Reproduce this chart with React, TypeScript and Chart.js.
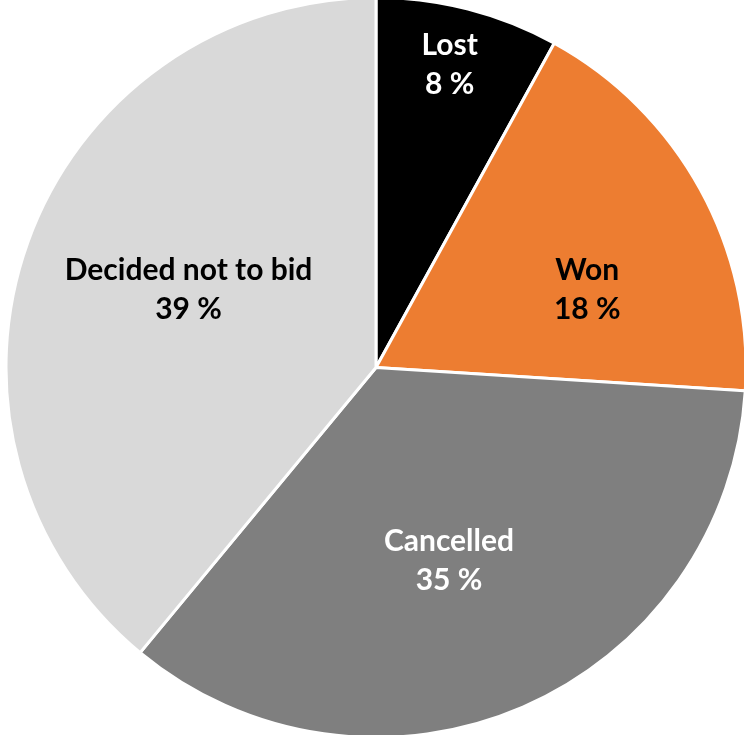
import React, { useEffect, useRef } from "react";
import { Chart, registerables } from "chart.js";

Chart.register(...registerables);

const categories = ["Lost", "Won", "Cancelled", "Decided not to bid"];
const values = [8, 18, 35, 39];
const percentLabels = ["8 %", "18 %", "35 %", "39 %"];
const colors = ["#000000", "#ED7D31", "#7F7F7F", "#D9D9D9"];
const labelColors = ["#FFFFFF", "#000000", "#FFFFFF", "#000000"];
// label placement: [angle offset from slice middle (deg), radius fraction]
const labelPlacement: [number, number][] = [
  [-0.7, 0.841],
  [8.7, 0.608],
  [2.7, 0.558],
  [2.6, 0.548],
];

const FONT = "bold 30px Lato, 'Open Sans', 'Liberation Sans', sans-serif";

const labelPlugin = {
  id: "sliceLabels",
  afterDatasetsDraw(chart: any) {
    const meta = chart.getDatasetMeta(0);
    const ctx = chart.ctx;
    ctx.save();
    ctx.font = FONT;
    ctx.textAlign = "center";
    ctx.textBaseline = "middle";
    meta.data.forEach((arc: any, i: number) => {
      const { x, y, startAngle, endAngle, outerRadius } = arc.getProps(
        ["x", "y", "startAngle", "endAngle", "outerRadius"],
        true
      );
      const mid = (startAngle + endAngle) / 2 + (labelPlacement[i][0] * Math.PI) / 180;
      const r = outerRadius * labelPlacement[i][1];
      const cx = x + Math.cos(mid) * r;
      const cy = y + Math.sin(mid) * r;
      ctx.fillStyle = labelColors[i];
      ctx.fillText(categories[i], cx, cy - 19.5);
      ctx.fillText(percentLabels[i], cx, cy + 19.5);
    });
    ctx.restore();
  },
};

export default function App() {
  const ref = useRef<HTMLCanvasElement | null>(null);
  useEffect(() => {
    if (!ref.current) return;
    const chart = new Chart(ref.current, {
      type: "pie",
      data: {
        labels: categories,
        datasets: [
          {
            data: values,
            backgroundColor: colors,
            borderColor: "#FFFFFF",
            borderWidth: 3,
            hoverOffset: 0,
          },
        ],
      },
      options: {
        animation: false,
        responsive: false,
        radius: 370,
        layout: { padding: { left: 8, top: 0, right: 0, bottom: 0 } },
        plugins: {
          legend: { display: false },
          tooltip: { enabled: false },
        },
      } as any,
      plugins: [labelPlugin],
    });
    return () => chart.destroy();
  }, []);
  return (
    <div style={{ position: "absolute", left: 0, top: 0, width: 744, height: 735, background: "#fff" }}>
      <canvas ref={ref} width={744} height={735} style={{ width: 744, height: 735 }} />
    </div>
  );
}
